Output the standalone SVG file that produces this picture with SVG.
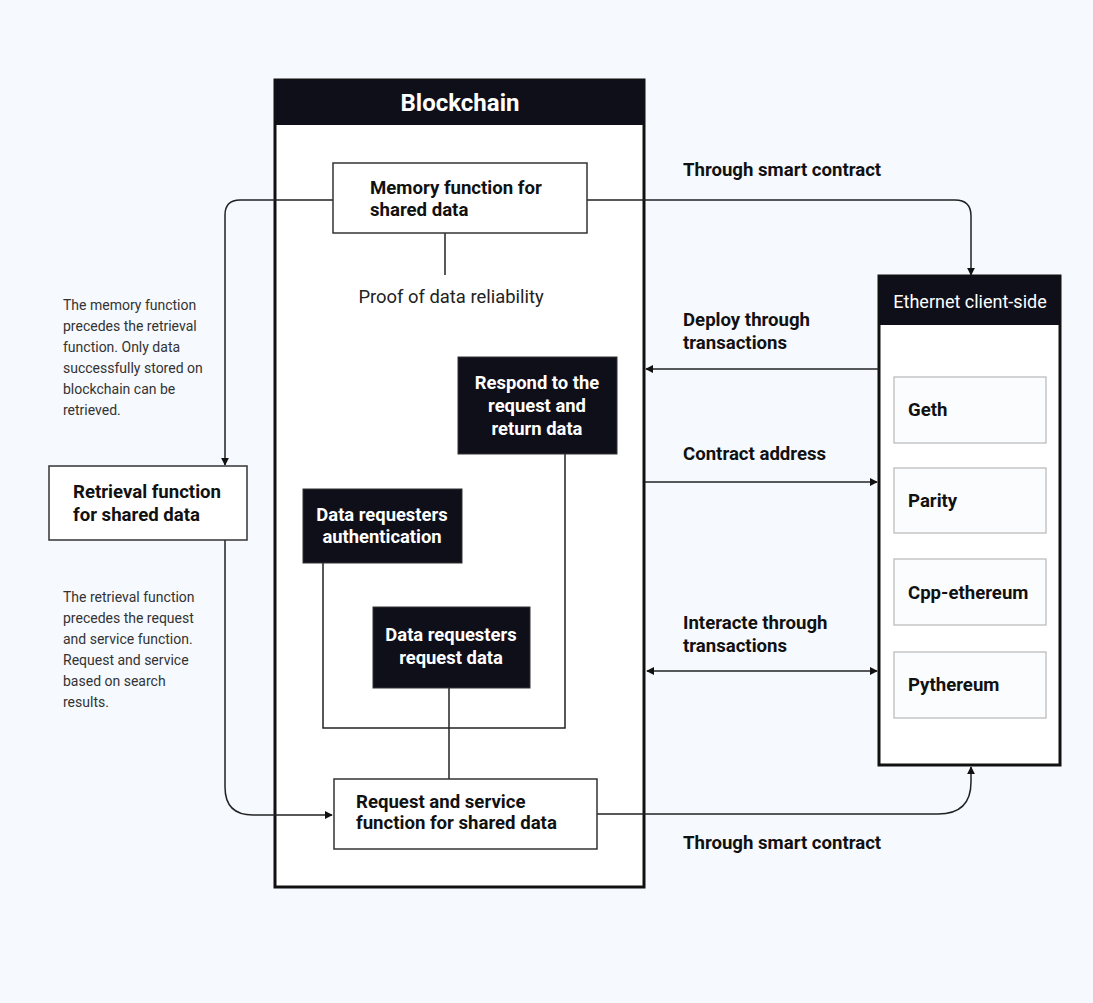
<svg xmlns="http://www.w3.org/2000/svg" width="1093" height="1003" viewBox="0 0 1093 1003">
  <style>
    .bg { fill: #f6f9fe; }
    .frame { fill: #ffffff; stroke: #111111; stroke-width: 3; }
    .head { fill: #0f0f1a; }
    .box { fill: #ffffff; stroke: #333333; stroke-width: 1.5; }
    .dark { fill: #0f0f1a; stroke: #333333; stroke-width: 1; }
    .client { fill: #fbfcfe; stroke: #b8b8b8; stroke-width: 1.2; }
    .wire { fill: none; stroke: #222222; stroke-width: 1.5; }
    .t { font-family: Roboto, "Liberation Sans", sans-serif; }
    .b16 { font-size: 18.6px; font-weight: 700; fill: #111111; }
    .w16 { font-size: 18.4px; font-weight: 700; fill: #ffffff; }
    .r15 { font-size: 18.4px; fill: #222222; }
    .hw { font-size: 18px; fill: #ffffff; }
    .note { font-size: 14px; fill: #333333; }
  </style>
  <defs>
    <marker id="arrow" viewBox="0 0 10 10" refX="9" refY="5" markerWidth="8" markerHeight="8" markerUnits="userSpaceOnUse" orient="auto-start-reverse">
      <path d="M0,0 L10,5 L0,10 z" fill="#111111"/>
    </marker>
  </defs>

  <rect class="bg" x="0" y="0" width="1093" height="1003"/>

  <!-- Blockchain container -->
  <g id="blockchain">
    <rect class="frame" x="275" y="80" width="369" height="807"/>
    <rect class="head" x="275" y="80" width="369" height="45"/>
    <text class="t" x="460" y="111" text-anchor="middle" font-size="24" font-weight="700" fill="#ffffff">Blockchain</text>
  </g>

  <!-- Ethereum client container -->
  <g id="ethernet-client">
    <rect class="frame" x="879" y="276" width="181" height="489" stroke-width="2.5"/>
    <rect class="head" x="879" y="276" width="181" height="49"/>
    <text class="t hw" x="970" y="308" text-anchor="middle">Ethernet client-side</text>
  </g>

  <!-- Connectors -->
  <g id="connectors">
    <!-- memory -> retrieval -->
    <path class="wire" d="M333,200 H240 Q225,200 225,215 V465" marker-end="url(#arrow)"/>
    <!-- memory -> client (through smart contract) -->
    <path class="wire" d="M587,200 H955 Q971,200 971,216 V275" marker-end="url(#arrow)"/>
    <!-- proof of data reliability -->
    <path class="wire" d="M445,233 V275"/>
    <!-- retrieval -> request/service -->
    <path class="wire" d="M225,540 V787 Q225,815 253,815 H332" marker-end="url(#arrow)"/>
    <!-- request/service -> client -->
    <path class="wire" d="M597,814 H938 Q971,814 971,782 V767" marker-end="url(#arrow)"/>
    <!-- deploy through transactions -->
    <path class="wire" d="M879,369 H646" marker-end="url(#arrow)"/>
    <!-- contract address -->
    <path class="wire" d="M645,482 H877" marker-end="url(#arrow)"/>
    <!-- interact through transactions -->
    <path class="wire" d="M647,671 H877" marker-start="url(#arrow)" marker-end="url(#arrow)"/>
    <!-- authentication / respond loop -->
    <path class="wire" d="M323,563 V728 H565 V454"/>
    <!-- request data -> request/service -->
    <path class="wire" d="M449,688 V779"/>
  </g>

  <!-- Blockchain functions -->
  <g id="memory-function">
    <rect class="box" x="333" y="163" width="254" height="70"/>
    <text class="t b16" x="370" y="194">Memory function for</text>
    <text class="t b16" x="370" y="216">shared data</text>
  </g>
  <g id="proof-label">
    <text class="t r15" x="451" y="303" text-anchor="middle">Proof of data reliability</text>
  </g>

  <g id="respond">
    <rect class="dark" x="458" y="357" width="159" height="97"/>
    <text class="t w16" x="537" y="389" text-anchor="middle">Respond to the</text>
    <text class="t w16" x="537" y="412" text-anchor="middle">request and</text>
    <text class="t w16" x="537" y="435" text-anchor="middle">return data</text>
  </g>
  <g id="authentication">
    <rect class="dark" x="303" y="489" width="159" height="74"/>
    <text class="t w16" x="382" y="521" text-anchor="middle">Data requesters</text>
    <text class="t w16" x="382" y="543" text-anchor="middle">authentication</text>
  </g>
  <g id="request-data">
    <rect class="dark" x="373" y="607" width="157" height="81"/>
    <text class="t w16" x="451" y="641" text-anchor="middle">Data requesters</text>
    <text class="t w16" x="451" y="664" text-anchor="middle">request data</text>
  </g>

  <g id="request-service">
    <rect class="box" x="334" y="779" width="263" height="70"/>
    <text class="t b16" x="356" y="808">Request and service</text>
    <text class="t b16" x="356" y="829">function for shared data</text>
  </g>

  <!-- Retrieval function outside the chain -->
  <g id="retrieval-function">
    <rect class="box" x="49" y="466" width="198" height="74"/>
    <text class="t b16" x="73" y="498">Retrieval function</text>
    <text class="t b16" x="73" y="521">for shared data</text>
  </g>

  <!-- Notes -->
  <g id="note-memory">
    <text class="t note" x="63" y="310">The memory function</text>
    <text class="t note" x="63" y="331">precedes the retrieval</text>
    <text class="t note" x="63" y="352">function. Only data</text>
    <text class="t note" x="63" y="373">successfully stored on</text>
    <text class="t note" x="63" y="394">blockchain can be</text>
    <text class="t note" x="63" y="415">retrieved.</text>
  </g>
  <g id="note-retrieval">
    <text class="t note" x="63" y="602">The retrieval function</text>
    <text class="t note" x="63" y="623">precedes the request</text>
    <text class="t note" x="63" y="644">and service function.</text>
    <text class="t note" x="63" y="665">Request and service</text>
    <text class="t note" x="63" y="686">based on search</text>
    <text class="t note" x="63" y="707">results.</text>
  </g>

  <!-- Connector labels -->
  <g id="labels">
    <text class="t b16" x="683" y="176">Through smart contract</text>
    <text class="t b16" x="683" y="326">Deploy through</text>
    <text class="t b16" x="683" y="349">transactions</text>
    <text class="t b16" x="683" y="460">Contract address</text>
    <text class="t b16" x="683" y="629">Interacte through</text>
    <text class="t b16" x="683" y="652">transactions</text>
    <text class="t b16" x="683" y="849">Through smart contract</text>
  </g>

  <!-- Client implementations -->
  <g id="geth">
    <rect class="client" x="894" y="377" width="152" height="66"/>
    <text class="t b16" x="908" y="416">Geth</text>
  </g>
  <g id="parity">
    <rect class="client" x="894" y="468" width="152" height="65" stroke="#777777"/>
    <text class="t b16" x="908" y="507">Parity</text>
  </g>
  <g id="cpp-ethereum">
    <rect class="client" x="894" y="559" width="152" height="66" stroke="#999999"/>
    <text class="t b16" x="908" y="599">Cpp-ethereum</text>
  </g>
  <g id="pythereum">
    <rect class="client" x="894" y="652" width="152" height="66"/>
    <text class="t b16" x="908" y="691">Pythereum</text>
  </g>
</svg>
